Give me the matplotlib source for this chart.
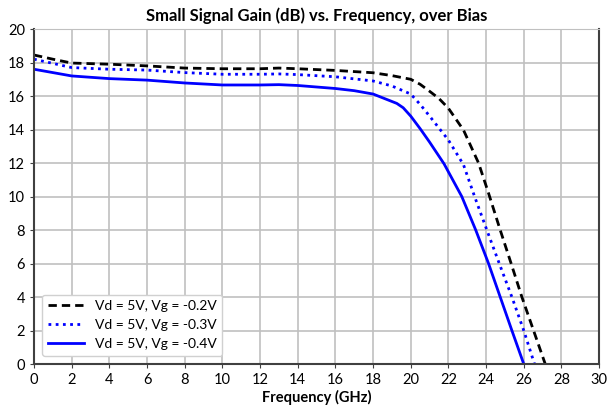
import matplotlib.pyplot as plt

plt.rcParams["font.family"] = ["Lato", "DejaVu Sans"]

# Frequency (GHz) and gain (dB)
freq_a = [0, 1, 2, 4, 6, 8, 10, 12, 13, 14, 16, 18, 19, 20, 20.5, 21.03, 21.5, 22, 22.8, 23.6, 24.13, 24.75, 25.33, 25.9, 26.52, 27.14]
gain_a = [18.45, 18.2, 17.97, 17.9, 17.8, 17.67, 17.63, 17.63, 17.67, 17.63, 17.53, 17.39, 17.22, 17.0, 16.7, 16.26, 15.85, 15.27, 13.97, 12.0, 10.2, 8.0, 6.0, 4.0, 2.0, 0.0]

freq_b = [0, 1, 2, 4, 6, 8, 10, 12, 13, 14, 16, 18, 19, 20, 20.5, 21.03, 22, 22.8, 23.39, 24.04, 24.7, 25.37, 26.0, 26.57]
gain_b = [18.2, 17.95, 17.7, 17.6, 17.55, 17.4, 17.3, 17.3, 17.32, 17.28, 17.15, 16.9, 16.6, 16.12, 15.5, 14.76, 13.37, 11.9, 10.0, 8.0, 6.0, 4.0, 2.0, 0.0]

freq_c = [0, 1, 2, 4, 6, 8, 10, 12, 13, 14, 16, 17, 18, 19.26, 19.6, 20, 20.5, 21, 21.77, 22.71, 23.45, 24.13, 24.75, 25.37, 26.0]
gain_c = [17.6, 17.4, 17.2, 17.04, 16.95, 16.78, 16.66, 16.66, 16.68, 16.63, 16.45, 16.32, 16.12, 15.56, 15.3, 14.8, 14.05, 13.25, 11.95, 10.0, 8.0, 6.0, 4.0, 2.0, 0.0]

labels = ["Vd = 5V, Vg = -0.2V", "Vd = 5V, Vg = -0.3V", "Vd = 5V, Vg = -0.4V"]

fig = plt.figure(figsize=(6.07, 4.12), dpi=100)
ax = fig.add_axes([0.056, 0.1165, 0.931, 0.813])

ax.plot(freq_a, gain_a, color="black", lw=2, linestyle=(0, (3, 1.8)), label=labels[0])
ax.plot(freq_b, gain_b, color="#0000ff", lw=2, linestyle=(0, (1, 1.6)), label=labels[1])
ax.plot(freq_c, gain_c, color="#0000ff", lw=2, label=labels[2])

ax.set_xlim(0, 30)
ax.set_ylim(0, 20)
ax.set_xticks(range(0, 31, 2))
ax.set_yticks(range(0, 21, 2))
ax.grid(True, color="#c0c0c0", lw=1.2)
ax.set_axisbelow(True)
ax.tick_params(labelsize=10.5, length=3, color="#404040")
for side in ["left", "bottom", "right"]:
    ax.spines[side].set_color("#404040")
    ax.spines[side].set_linewidth(1.5)
ax.spines["top"].set_color("#c0c0c0")

ax.set_title("Small Signal Gain (dB) vs. Frequency, over Bias", fontsize=12, fontweight="bold", pad=6)
ax.set_xlabel("Frequency (GHz)", fontsize=10.5, fontweight="bold", labelpad=2)
ax.legend(loc="lower left", fontsize=10, handlelength=2.6, framealpha=1, edgecolor="#d0d0d0", borderaxespad=0.6)

fig.savefig("out.png", dpi=100)
